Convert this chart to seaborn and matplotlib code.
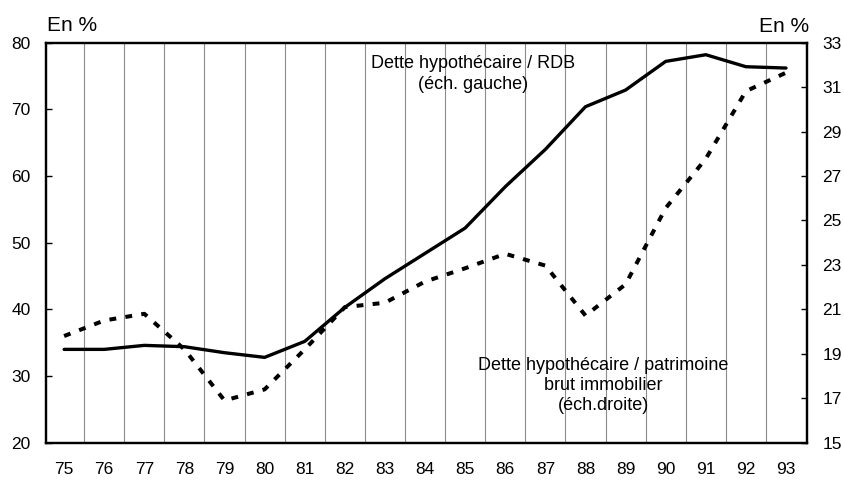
import matplotlib
matplotlib.use("Agg")
import matplotlib.pyplot as plt
import seaborn as sns
import pandas as pd

# Data (years 1975-1993)
years = [75, 76, 77, 78, 79, 80, 81, 82, 83, 84, 85, 86, 87, 88, 89, 90, 91, 92, 93]
dette_rdb = [34.0, 34.0, 34.6, 34.4, 33.5, 32.8, 35.2, 40.3, 44.6, 48.4, 52.2, 58.4,
             64.0, 70.4, 72.9, 77.2, 78.2, 76.4, 76.2]
dette_patrimoine = [19.8, 20.5, 20.8, 19.2, 16.9, 17.4, 19.2, 21.1, 21.3, 22.25, 22.85,
                    23.5, 22.97, 20.72, 22.13, 25.56, 27.78, 30.82, 31.65]
left_ticks = [20, 30, 40, 50, 60, 70, 80]
right_ticks = [15, 17, 19, 21, 23, 25, 27, 29, 31, 33]

df = pd.DataFrame({"annee": years, "rdb": dette_rdb, "patrimoine": dette_patrimoine})

sns.set_style("white")
plt.rcParams["font.family"] = ["Liberation Sans", "DejaVu Sans"]
plt.rcParams["text.color"] = "black"
plt.rcParams["xtick.color"] = "black"
plt.rcParams["ytick.color"] = "black"

fig = plt.figure(figsize=(8.44, 4.8), dpi=100)
ax = fig.add_axes([0.0541, 0.0777, 0.9019, 0.8333])

# Solid line: mortgage debt / disposable income (left scale)
sns.lineplot(data=df, x="annee", y="rdb", ax=ax, color="black", linewidth=2.4,
             zorder=3)
ax.set_xlim(74.54, 93.52)
ax.set_ylim(20, 80)
ax.set_yticks(left_ticks)
ax.set_xticks(years)
ax.set_xticks([y + 0.5 for y in years[:-1]], minor=True)
ax.grid(False)
ax.grid(True, which="minor", axis="x", color="#8c8c8c", linewidth=0.8)
ax.tick_params(axis="x", which="both", length=0, pad=14, labelsize=12.5)
ax.tick_params(axis="y", direction="in", length=4, width=1, pad=11, labelsize=12.5)
ax.set_xlabel("")
ax.set_ylabel("")
for s in ax.spines.values():
    s.set_linewidth(1.6)
    s.set_color("black")

# Dashed line: mortgage debt / gross real estate wealth (right scale)
ax2 = ax.twinx()
sns.lineplot(data=df, x="annee", y="patrimoine", ax=ax2, color="black",
             linewidth=2.9, dashes=False)
ax2.lines[0].set_dashes([1.7, 2.3])
ax2.set_ylim(15, 33)
ax2.set_yticks(right_ticks)
ax2.tick_params(axis="y", direction="in", length=4, width=1, pad=11, labelsize=12.5)
ax2.set_ylabel("")
ax2.grid(False)
for s in ax2.spines.values():
    s.set_linewidth(1.6)
    s.set_color("black")

fig.text(0.056, 0.947, "En %", fontsize=15, ha="left", va="center")
fig.text(0.959, 0.944, "En %", fontsize=15, ha="right", va="center")

ax.text(0.56, 0.846, "Dette hypothécaire / RDB\n(éch. gauche)", transform=fig.transFigure,
        fontsize=13, ha="center", va="center", linespacing=1.25)
ax.text(0.715, 0.197, "Dette hypothécaire / patrimoine\nbrut immobilier\n(éch.droite)",
        transform=fig.transFigure, fontsize=13, ha="center", va="center",
        linespacing=1.2)

fig.savefig("out.png", dpi=100)
